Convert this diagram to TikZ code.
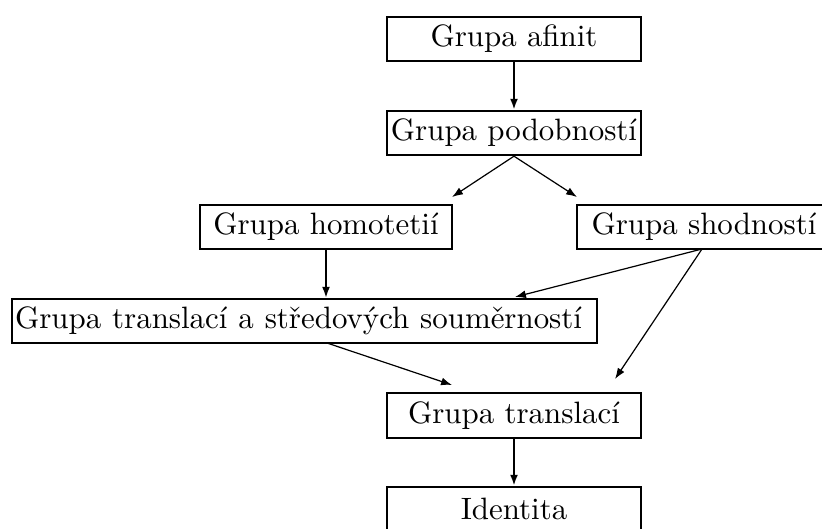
\documentclass[tikz,border=0pt]{standalone}
\usepackage{fontspec}
\usetikzlibrary{arrows.meta,calc}
\begin{document}
\begin{tikzpicture}[x=0.33pt,y=-0.33pt,
  gbox/.style={draw,line width=0.8pt,inner sep=0pt,minimum height=14.5pt,minimum width=83.8pt,font=\fontsize{10.2}{12}\selectfont},
  thickarr/.style={line width=0.8pt,-{Latex[length=3.6pt,width=2.6pt]}},
  thinarr/.style={line width=0.4pt,-{Latex[length=3.6pt,width=2.6pt]}}]
\useasboundingbox (0,0) rectangle (822,529);
\node[gbox] (afin) at (514,39) {Grupa afinit};
\node[gbox] (podob) at (514,133) {Grupa podobností};
\node[gbox,minimum width=83.2pt] (homot) at (326,227) {Grupa homotetií};
\node[gbox] (shod) at (704,227) {Grupa shodností};
\node[gbox,minimum width=193pt,text width=191pt,inner xsep=1pt,align=left] (big) at (304.5,321) {\spaceskip=3.6pt plus 1pt Grupa translací a středových souměrností};
\node[gbox,minimum height=14.8pt] (transl) at (514,415.5) {Grupa translací};
\node[gbox] (ident) at (514,509) {Identita};
\coordinate (tH) at (452,197);
\coordinate (tS) at (577,197);
\coordinate (tB) at (515,297);
\coordinate (tT1) at (452,385);
\coordinate (tT2) at (615,379);
\coordinate (sB) at (327,343);
\coordinate (sS) at (702,249);
\draw[thickarr] (afin.south) -- (podob.north);
\draw[thinarr] (podob.south) -- (tH);
\draw[thinarr] (podob.south) -- (tS);
\draw[thickarr,line width=0.6pt] (homot.south) -- (homot.south |- big.north);
\draw[thinarr] (sS) -- (tB);
\draw[thinarr] (sS) -- (tT2);
\draw[thinarr] (sB) -- (tT1);
\draw[thickarr] (transl.south) -- (ident.north);
\end{tikzpicture}
\end{document}
